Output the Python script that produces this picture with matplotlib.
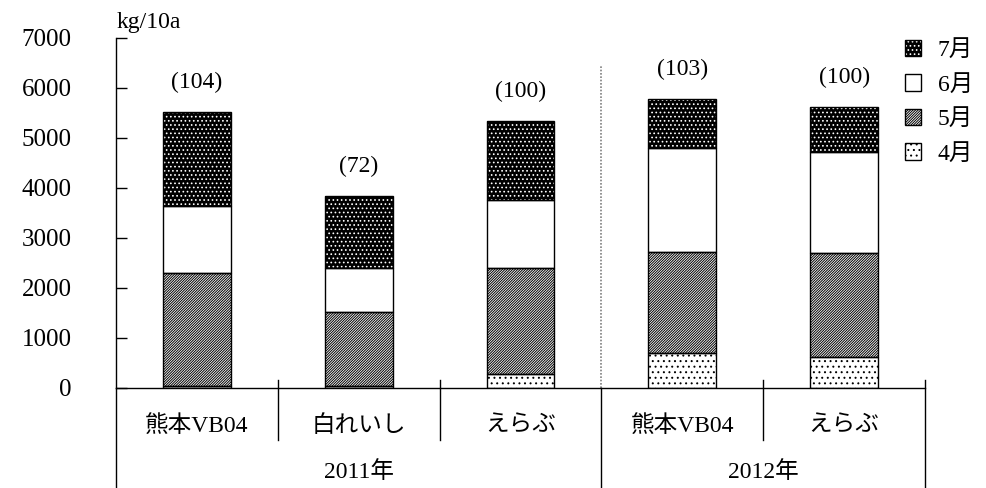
import numpy as np
import matplotlib
matplotlib.use('Agg')
from matplotlib import pyplot as plt
from matplotlib.patches import Patch

plt.rcParams['font.family'] = ['Liberation Serif', 'Noto Sans CJK JP']
plt.rcParams['hatch.linewidth'] = 0.7

# data (kg/10a per month)
cultivars = ['熊本VB04', '白れいし', 'えらぶ', '熊本VB04', 'えらぶ']
years = ['2011年', '2012年']
year_spans = [(0, 3), (3, 5)]
apr = [40, 40, 290, 700, 630]
may = [2260, 1490, 2110, 2020, 2070]
jun = [1350, 870, 1370, 2080, 2020]
jul = [1880, 1440, 1580, 980, 900]
index_labels = ['(104)', '(72)', '(100)', '(103)', '(100)']
months = ['7月', '6月', '5月', '4月']

fig = plt.figure(figsize=(9.86, 4.88), dpi=100)
ax = fig.add_axes([116/986, 100/488, (925-116)/986, (388-38)/488])

x = np.arange(len(cultivars)) + 0.5
w = 0.42
styles = {
    '4月': dict(facecolor='white', edgecolor='black', hatch='...'),
    '5月': dict(facecolor='white', edgecolor='black', hatch='/' * 13),
    '6月': dict(facecolor='white', edgecolor='black', hatch=None),
    '7月': dict(facecolor='black', edgecolor='white', hatch='....'),
}
bottom = np.zeros(len(x))
for name, vals in [('4月', apr), ('5月', may), ('6月', jun), ('7月', jul)]:
    st = styles[name]
    ax.bar(x, vals, w, bottom=bottom, color=st['facecolor'], edgecolor=st['edgecolor'],
           hatch=st['hatch'], linewidth=0, zorder=2)
    ax.bar(x, vals, w, bottom=bottom, fill=False, edgecolor='black', linewidth=1.0, zorder=3)
    bottom += np.array(vals)

for xi, top, lab in zip(x, bottom, index_labels):
    ax.annotate(lab, (xi, top), xytext=(0, 21), textcoords='offset points',
                ha='center', va='center', fontsize=17)

ax.set_xlim(0, 5)
ax.set_ylim(0, 7000)
ax.set_yticks(np.arange(0, 7001, 1000))
ax.tick_params(axis='y', direction='in', length=8, width=1, pad=32, labelsize=18)
ax.set_xticks([])
for s in ['top', 'right']:
    ax.spines[s].set_visible(False)
ax.spines['left'].set_linewidth(1)
ax.spines['bottom'].set_linewidth(1)

# dotted separator between years
ax.plot([3, 3], [0, 6450], color='gray', linestyle=(0, (1, 1)), linewidth=1.2)

# category axis lines
trans = ax.get_xaxis_transform()
for xb in [1, 2, 4]:
    ax.plot([xb, xb], [0.023, -0.149], transform=trans, color='black', lw=1, clip_on=False)
for xb in [0, 3, 5]:
    top = 0.023 if xb == 5 else 0
    ax.plot([xb, xb], [top, -0.286], transform=trans, color='black', lw=1, clip_on=False)
for xi, lab in zip(x, cultivars):
    ax.text(xi, -0.11, lab, transform=trans, ha='center', va='center', fontsize=17)
for (a, b), lab in zip(year_spans, years):
    ax.text((a + b) / 2, -0.24, lab, transform=trans, ha='center', va='center', fontsize=17)

ax.text(0.04, 1.045, 'kg/10a', transform=ax.transAxes, ha='center', va='center', fontsize=17)

handles = [Patch(facecolor=styles[m]['facecolor'], edgecolor=styles[m]['edgecolor'],
                 hatch=styles[m]['hatch'], linewidth=0) for m in months]
handles = [(h, Patch(fill=False, edgecolor='black', linewidth=1)) for h in handles]
fig.legend(handles, months, loc='upper left', bbox_to_anchor=(893/986, 1 - 28/488),
           frameon=False, fontsize=17, handlelength=0.7, handleheight=0.7,
           handletextpad=0.7, labelspacing=0.55, borderpad=0)

fig.savefig('out.png', dpi=100)
